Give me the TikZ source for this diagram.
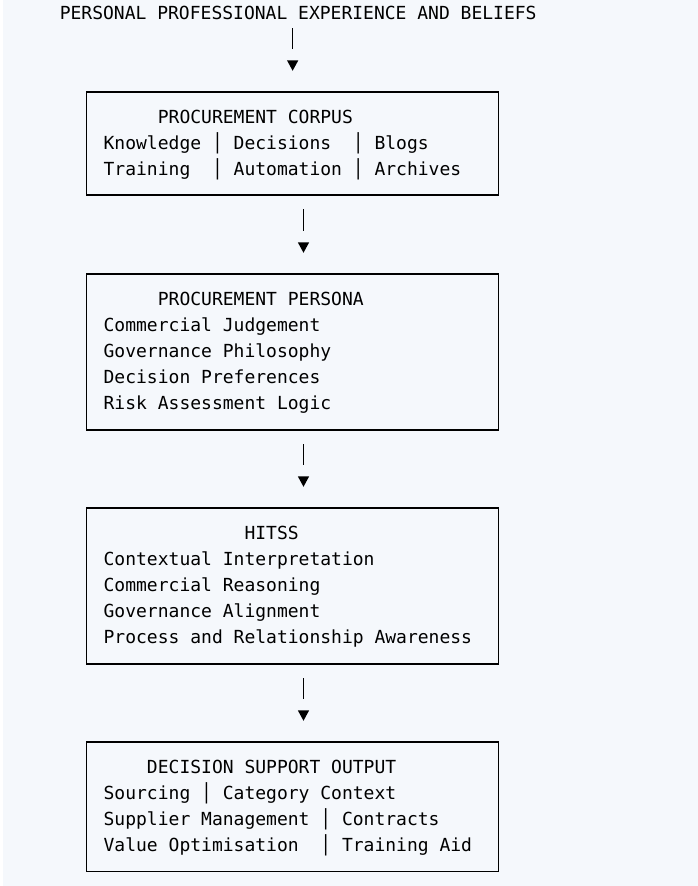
\documentclass[tikz,border=0pt]{standalone}
\usepackage{fontspec}
\setmonofont{DejaVu Sans Mono}
\usetikzlibrary{arrows.meta,decorations.markings}
\definecolor{pagebg}{HTML}{F5F8FC}
\newcommand\asciifont{\fontsize{18}{26}\selectfont\ttfamily}
\newlength\chw
\settowidth\chw{\asciifont M}
\newcommand\pad[1]{\hspace*{#1\chw}}

\begin{document}
\begin{tikzpicture}[
    x=1pt, y=-1pt,
    every node/.style={font=\asciifont, inner sep=0pt,
      execute at begin node={\spaceskip=\chw\xspaceskip=\chw}},
    panel/.style={rectangle, draw, line width=1.4pt, align=left,
      text width=378pt, inner xsep=16.4pt, minimum width=411.9pt,
      text height=14pt, text depth=#1},
    flow/.style={line width=1.4pt, shorten <=13.5pt, shorten >=42pt,
      postaction={decorate},
      decoration={markings, mark=at position -20.5pt with
        {\arrow{Triangle[length=10.5pt, width=11pt]}}}},
]
\useasboundingbox (0,0) rectangle (698,886);
\fill[pagebg] (3,0) rectangle (698,886);

% --- source line ----------------------------------------------------
\node[anchor=base west] (lead) at (59.6,19.6)
  {PERSONAL PROFESSIONAL EXPERIENCE AND BELIEFS};

% --- the four stacked panels (x = 292.65) ---------------------------
\node[panel=55pt, minimum height=103pt] (corpus) at (292.65,143.5)
  {\pad{5}PROCUREMENT CORPUS\\
   Knowledge │ Decisions~ │ Blogs\\
   Training~ │ Automation │ Archives};
\node[panel=107pt, minimum height=156pt] (persona) at (292.65,352)
  {\pad{5}PROCUREMENT PERSONA\\
   Commercial Judgement\\
   Governance Philosophy\\
   Decision Preferences\\
   Risk Assessment Logic};
\node[panel=107pt, minimum height=156pt] (hitss) at (292.65,586)
  {\pad{13}HITSS\\
   Contextual Interpretation\\
   Commercial Reasoning\\
   Governance Alignment\\
   Process and Relationship Awareness};
\node[panel=81pt, minimum height=129.5pt] (output) at (292.65,806.75)
  {\pad{4}DECISION SUPPORT OUTPUT\\
   Sourcing │ Category Context\\
   Supplier Management │ Contracts\\
   Value Optimisation~ │ Training Aid};

% --- flow downwards -------------------------------------------------
\draw[flow, shorten <=8.4pt] (lead.south -| corpus.north) -- (corpus.north);
\draw[flow] ([xshift=\chw]corpus.south)  -- ([xshift=\chw]persona.north);
\draw[flow] ([xshift=\chw]persona.south) -- ([xshift=\chw]hitss.north);
\draw[flow] ([xshift=\chw]hitss.south)   -- ([xshift=\chw]output.north);
\end{tikzpicture}
\end{document}
